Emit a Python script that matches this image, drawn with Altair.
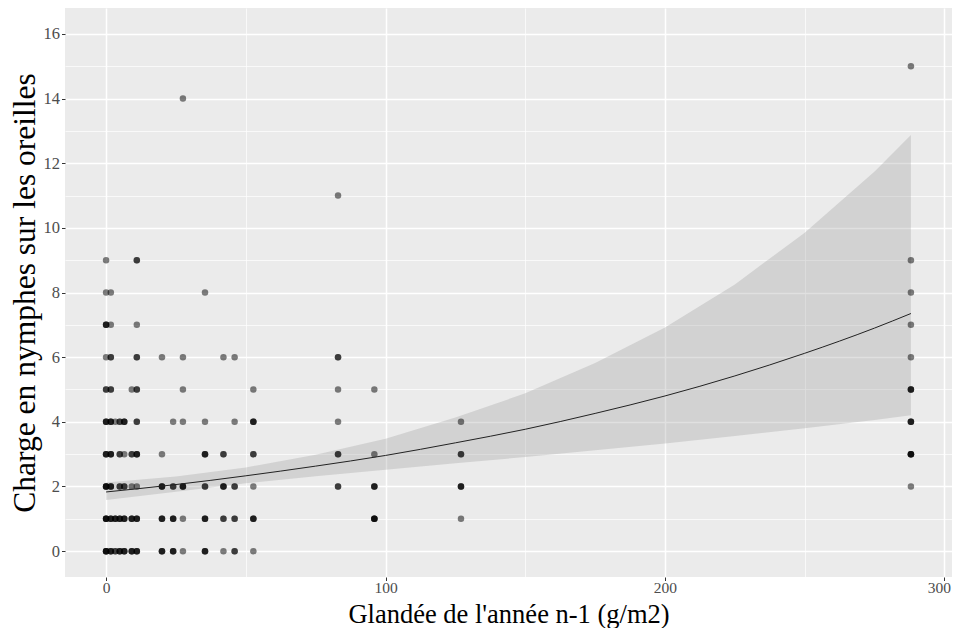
import altair as alt
import pandas as pd

# Observed points: x (glandée), y (charge), n = number of overlapping observations
pt_x = [0, 11,
        0, 1.7, 35.4,
        0, 1.7, 11,
        0, 1.7, 11, 20, 27.5, 42, 46,
        0, 1.7, 9.2, 11, 27.5, 52.7,
        0, 1.7, 3.3, 4.9, 6.5, 11, 24, 27.5, 35.4, 46, 52.7,
        0, 1.7, 4.9, 6.5, 9.2, 11, 20, 35.4, 42, 52.7,
        0, 1.7, 4.9, 6.5, 9.2, 11, 20, 24, 27.5, 35.4, 42, 46, 52.7,
        0, 1.7, 3.3, 4.9, 6.5, 9.2, 11, 20, 24, 27.5, 35.4, 42, 46, 52.7,
        0, 1.7, 3.3, 4.9, 6.5, 9.2, 11, 20, 24, 27.5, 35.4, 42, 46, 52.7,
        27.5,
        83, 83, 83, 83, 83, 83,
        96, 96, 96, 96,
        127, 127, 127, 127,
        288, 288, 288, 288, 288, 288, 288, 288, 288]
pt_y = [9, 9,
        8, 8, 8,
        7, 7, 7,
        6, 6, 6, 6, 6, 6, 6,
        5, 5, 5, 5, 5, 5,
        4, 4, 4, 4, 4, 4, 4, 4, 4, 4, 4,
        3, 3, 3, 3, 3, 3, 3, 3, 3, 3,
        2, 2, 2, 2, 2, 2, 2, 2, 2, 2, 2, 2, 2,
        1, 1, 1, 1, 1, 1, 1, 1, 1, 1, 1, 1, 1, 1,
        0, 0, 0, 0, 0, 0, 0, 0, 0, 0, 0, 0, 0, 0,
        14,
        11, 6, 5, 4, 3, 2,
        5, 3, 2, 1,
        4, 3, 2, 1,
        15, 9, 8, 7, 6, 5, 4, 3, 2]
pt_n = [1, 2,
        1, 1, 1,
        3, 1, 1,
        1, 2, 2, 1, 1, 1, 1,
        2, 2, 1, 2, 1, 1,
        3, 3, 1, 2, 3, 2, 1, 1, 1, 1, 3,
        3, 3, 2, 1, 2, 3, 1, 3, 2, 2,
        4, 3, 2, 2, 1, 1, 3, 2, 3, 2, 3, 2, 1,
        4, 3, 3, 3, 3, 3, 3, 3, 3, 1, 3, 2, 2, 3,
        4, 3, 2, 3, 3, 3, 3, 3, 3, 1, 3, 1, 2, 1,
        1,
        1, 2, 1, 1, 2, 2,
        1, 1, 3, 4,
        1, 2, 3, 1,
        1, 1, 1, 1, 1, 3, 3, 4, 1]

# Fitted curve and confidence band
fit_x = [0, 25, 50, 75, 100, 125, 150, 175, 200, 225, 250, 275, 288]
fit_y = [1.83, 2.06, 2.33, 2.63, 2.96, 3.35, 3.77, 4.26, 4.80, 5.42, 6.12, 6.90, 7.35]
fit_lo = [1.58, 1.84, 2.10, 2.32, 2.52, 2.72, 2.91, 3.12, 3.33, 3.56, 3.80, 4.06, 4.20]
fit_hi = [2.12, 2.31, 2.59, 2.98, 3.48, 4.13, 4.88, 5.82, 6.92, 8.25, 9.85, 11.74, 12.87]

x_ticks = [0, 50, 100, 150, 200, 250, 300]
y_ticks = list(range(0, 17))

rows = []
for x, y, n in zip(pt_x, pt_y, pt_n):
    for _ in range(n):
        rows.append({"x": x, "y": y})
points = pd.DataFrame(rows)
fit = pd.DataFrame({"x": fit_x, "y": fit_y, "lo": fit_lo, "hi": fit_hi})

FONT = "Liberation Serif"

xscale = alt.Scale(domain=[-14.7, 302.7], nice=False, zero=False)
yscale = alt.Scale(domain=[-0.8, 16.8], nice=False, zero=False)

xaxis = alt.Axis(
    values=x_ticks,
    labelExpr="datum.value % 100 === 0 ? datum.label : ''",
    gridColor="white",
    gridWidth={"condition": {"test": "datum.value % 100 !== 0", "value": 0.7}, "value": 1.5},
    tickOpacity={"condition": {"test": "datum.value % 100 !== 0", "value": 0}, "value": 1},
    tickColor="#333333", tickSize=3.5, tickWidth=1,
    domain=False,
    labelFont=FONT, labelFontSize=15.5, labelColor="#4D4D4D", labelPadding=0,
    labelFlush=12, labelFlushOffset=6,
    title="Glandée de l'année n-1 (g/m2)",
    titleFont=FONT, titleFontSize=26.5, titleFontWeight="normal", titleColor="black",
    titleBaseline="alphabetic", titleY=45,
)
yaxis = alt.Axis(
    values=y_ticks,
    labelExpr="datum.value % 2 === 0 ? datum.label : ''",
    gridColor="white",
    gridWidth={"condition": {"test": "datum.value % 2 !== 0", "value": 0.7}, "value": 1.5},
    tickOpacity={"condition": {"test": "datum.value % 2 !== 0", "value": 0}, "value": 1},
    tickColor="#333333", tickSize=3.5, tickWidth=1,
    domain=False,
    labelFont=FONT, labelFontSize=16.5, labelColor="#4D4D4D", labelPadding=2,
    title="Charge en nymphes sur les oreilles",
    titleFont=FONT, titleFontSize=31.5, titleFontWeight="normal", titleColor="black",
    titleX=-24,
)

band = alt.Chart(fit).mark_area(color="#999999", opacity=0.3).encode(
    x=alt.X("x:Q", scale=xscale, axis=xaxis),
    y=alt.Y("lo:Q", scale=yscale, axis=yaxis),
    y2="hi:Q",
)
pts = alt.Chart(points).mark_circle(color="black", opacity=0.5, size=42).encode(
    x=alt.X("x:Q", scale=xscale, axis=xaxis),
    y=alt.Y("y:Q", scale=yscale, axis=yaxis),
)
line = alt.Chart(fit).mark_line(color="#222222", strokeWidth=1, interpolate="monotone").encode(
    x=alt.X("x:Q", scale=xscale, axis=xaxis),
    y=alt.Y("y:Q", scale=yscale, axis=yaxis),
)

chart = alt.layer(band, pts, line).properties(
    width=887, height=569,
    autosize=alt.AutoSizeParams(type="none"),
    padding={"left": 57, "top": 0, "right": 0, "bottom": 51},
).configure_view(fill="#EBEBEB", stroke=None)

chart.save("out.html", embed_options={"renderer": "svg", "actions": False})
